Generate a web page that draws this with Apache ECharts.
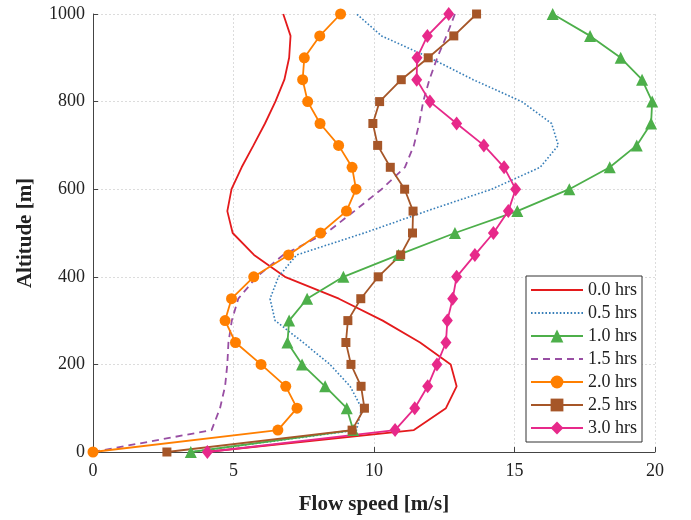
<!DOCTYPE html>
<html>
<head>
<meta charset="utf-8">
<script src="https://cdn.jsdelivr.net/npm/echarts@6/dist/echarts.min.js"></script>
<style>
html, body { margin: 0; padding: 0; background: #fff; }
#chart { width: 691px; height: 520px; }
</style>
</head>
<body>
<div id="chart"></div>
<script>
// altitude levels, every 50 m
var altitude = [0, 50, 100, 150, 200, 250, 300, 350, 400, 450, 500,
	550, 600, 650, 700, 750, 800, 850, 900, 950, 1000];

// flow speed [m/s] per altitude
var hrs00 = [4.0, 11.42, 12.56, 12.94, 12.73, 11.64, 10.31, 8.75, 6.83, 5.73, 4.97,
	4.78, 4.93, 5.29, 5.71, 6.12, 6.49, 6.81, 6.98, 7.03, 6.77];
var hrs05 = [3.5, 9.38, 9.56, 9.15, 8.43, 7.48, 6.48, 6.30, 6.60, 7.25, 9.65,
	11.87, 14.19, 15.91, 16.56, 16.32, 15.26, 13.53, 11.99, 10.27, 9.38];
var hrs10 = [3.48, 9.26, 9.03, 8.26, 7.44, 6.92, 6.98, 7.62, 8.91, 10.87, 12.88,
	15.10, 16.95, 18.39, 19.35, 19.86, 19.90, 19.54, 18.78, 17.69, 16.36];
var hrs15 = [0, 4.22, 4.52, 4.70, 4.78, 4.82, 4.94, 5.17, 5.83, 6.77, 8.30,
	9.30, 10.27, 11.10, 11.42, 11.61, 11.75, 11.97, 12.25, 12.58, 12.88];
var hrs20 = [0, 6.58, 7.26, 6.86, 5.98, 5.07, 4.70, 4.93, 5.72, 6.96, 8.10,
	9.02, 9.36, 9.22, 8.74, 8.08, 7.64, 7.46, 7.52, 8.07, 8.81];
var hrs25 = [2.63, 9.22, 9.66, 9.54, 9.18, 9.00, 9.07, 9.53, 10.15, 10.95, 11.37,
	11.39, 11.09, 10.58, 10.13, 9.96, 10.20, 10.97, 11.93, 12.84, 13.65];
var hrs30 = [4.07, 10.75, 11.45, 11.91, 12.24, 12.56, 12.61, 12.80, 12.94, 13.59, 14.25,
	14.78, 15.04, 14.63, 13.91, 12.94, 11.99, 11.52, 11.53, 11.90, 12.66];

var names = ['0.0 hrs', '0.5 hrs', '1.0 hrs', '1.5 hrs', '2.0 hrs', '2.5 hrs', '3.0 hrs'];
var plain = ['0.0 hrs', '0.5 hrs', '1.5 hrs']; // lines without markers

var fontFam = '"Liberation Serif", "DejaVu Serif", serif';

function pairs(speed) {
	var out = [];
	for (var i = 0; i < altitude.length; i++) {
		out.push([speed[i], altitude[i]]);
	}
	return out;
}

function mkSeries(name, speed, color, symbol, size, lineType, width) {
	return {
		name: name,
		type: 'line',
		data: pairs(speed),
		symbol: symbol || 'circle',
		showSymbol: !!symbol,
		symbolSize: size,
		itemStyle: { color: color },
		lineStyle: { color: color, width: width || 1.8, type: lineType || 'solid' },
		animation: false,
		z: 3
	};
}

// legend entries: hide the marker for the plain lines
var legendData = names.map(function(n) {
	return plain.indexOf(n) >= 0 ? { name: n, itemStyle: { opacity: 0 } } : { name: n };
});

var chart = echarts.init(document.getElementById('chart'));
var option = {
	backgroundColor: '#fff',
	grid: { left: 93, right: 36, top: 14, bottom: 64 },
	legend: {
		orient: 'vertical',
		right: 49,
		top: 276,
		data: legendData,
		backgroundColor: '#fff',
		borderColor: '#333',
		borderWidth: 1,
		padding: [5, 5, 5, 4],
		itemWidth: 52,
		itemHeight: 16,
		itemGap: 5,
		textStyle: { fontFamily: fontFam, fontSize: 18, color: '#222' }
	},
	xAxis: {
		type: 'value',
		min: 0,
		max: 20,
		interval: 5,
		name: 'Flow speed [m/s]',
		nameLocation: 'middle',
		nameGap: 42,
		nameTextStyle: { fontFamily: fontFam, fontSize: 21, fontWeight: 'bold', color: '#222' },
		axisLine: { show: true, lineStyle: { color: '#444', width: 1 } },
		axisTick: { show: true, inside: true, length: 5, lineStyle: { color: '#444' } },
		axisLabel: { fontFamily: fontFam, fontSize: 18, color: '#222', margin: 10 },
		splitLine: { show: true, lineStyle: { color: '#dcdcdc', type: [2, 2] } }
	},
	yAxis: {
		type: 'value',
		min: 0,
		max: 1000,
		interval: 200,
		name: 'Altitude [m]',
		nameLocation: 'middle',
		nameGap: 57,
		nameTextStyle: { fontFamily: fontFam, fontSize: 21, fontWeight: 'bold', color: '#222' },
		axisLine: { show: true, lineStyle: { color: '#444', width: 1 } },
		axisTick: { show: true, inside: true, length: 5, lineStyle: { color: '#444' } },
		axisLabel: {
			fontFamily: fontFam, fontSize: 18, color: '#222', margin: 8,
			formatter: function(v) { return String(v); }
		},
		splitLine: { show: true, lineStyle: { color: '#dcdcdc', type: [2, 2] } }
	},
	series: [
		mkSeries(names[0], hrs00, '#e41a1c', null, 0),
		mkSeries(names[1], hrs05, '#377eb8', null, 0, [1.6, 2], 1.6),
		mkSeries(names[2], hrs10, '#4daf4a', 'triangle', 12),
		mkSeries(names[3], hrs15, '#984ea3', null, 0, [7, 5]),
		mkSeries(names[4], hrs20, '#ff7f00', 'circle', 11),
		mkSeries(names[5], hrs25, '#a65628', 'rect', 9),
		mkSeries(names[6], hrs30, '#e7298a', 'diamond', [11, 14])
	]
};
chart.setOption(option);
</script>
</body>
</html>
